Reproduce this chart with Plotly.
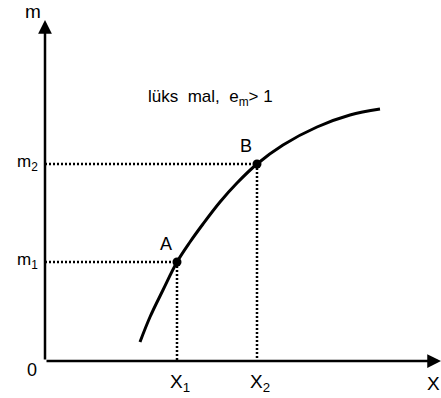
import plotly.graph_objects as go

# Curve (income m vs quantity X); origin at the axes corner
curve_x = [95, 105, 118, 132, 145, 158, 175, 192, 212, 238, 272, 305, 335]
curve_m = [19, 44, 71, 99, 119, 137, 159, 178, 197, 216, 234, 246, 252]
point_names = ["A", "B"]
point_x = [132, 212]
point_m = [99, 197]
x_ticklabels = ["X<sub>1</sub>", "X<sub>2</sub>"]
m_ticklabels = ["m<sub>1</sub>", "m<sub>2</sub>"]
curve_label = "lüks  mal,  e<sub>m</sub>> 1"

FONT = "Liberation Sans, Arial, sans-serif"
fig = go.Figure()

# dotted guide lines
for px, pm in zip(point_x, point_m):
    fig.add_trace(go.Scatter(x=[0, px, px], y=[pm, pm, 0], mode="lines",
                             line=dict(color="black", width=2.5, dash="2px,2px"),
                             hoverinfo="skip", showlegend=False))

fig.add_trace(go.Scatter(x=curve_x, y=curve_m, mode="lines",
                         line=dict(color="black", width=3, shape="spline"),
                         showlegend=False))
fig.add_trace(go.Scatter(x=point_x, y=point_m, mode="markers",
                         marker=dict(color="black", size=9), showlegend=False))

XMAX, YMAX = 396, 341
# axes with arrows
fig.add_annotation(x=0, y=YMAX, ax=0, ay=0, xref="x", yref="y", axref="x", ayref="y",
                   showarrow=True, arrowhead=2, arrowsize=1.1, arrowwidth=2.5,
                   arrowcolor="black", text="")
fig.add_annotation(x=XMAX, y=0, ax=0, ay=0, xref="x", yref="y", axref="x", ayref="y",
                   showarrow=True, arrowhead=2, arrowsize=1.1, arrowwidth=2.5,
                   arrowcolor="black", text="")

def label(x, y, t, size=16, xanchor="center"):
    fig.add_annotation(x=x, y=y, text=t, showarrow=False, xanchor=xanchor,
                       yanchor="middle", font=dict(family=FONT, size=size, color="black"))

label(-12, 350, "m", 19)
label(-13, -9, "0", 18)
label(388, -22, "X", 19)
for px, t in zip(point_x, x_ticklabels):
    label(px + 3, -22, t, 19)
for pm, t in zip(point_m, m_ticklabels):
    label(-18, pm + 1, t, 17)
for name, px, pm in zip(point_names, point_x, point_m):
    label(px - 11, pm + 18, name, 18)
label(165, 263, curve_label, 17)

fig.update_layout(width=441, height=398, margin=dict(l=0, r=0, t=0, b=0),
                  plot_bgcolor="white", paper_bgcolor="white",
                  xaxis=dict(range=[-45, 396], visible=False, fixedrange=True),
                  yaxis=dict(range=[-37, 361], visible=False, fixedrange=True))
fig.write_html("out.html", config={"displayModeBar": False})

with open("out.html", encoding="utf-8") as f:
    html = f.read()
html = html.replace("<head>", "<head><style>html,body{margin:0;padding:0;overflow:hidden;}</style>", 1)
with open("out.html", "w", encoding="utf-8") as f:
    f.write(html)
